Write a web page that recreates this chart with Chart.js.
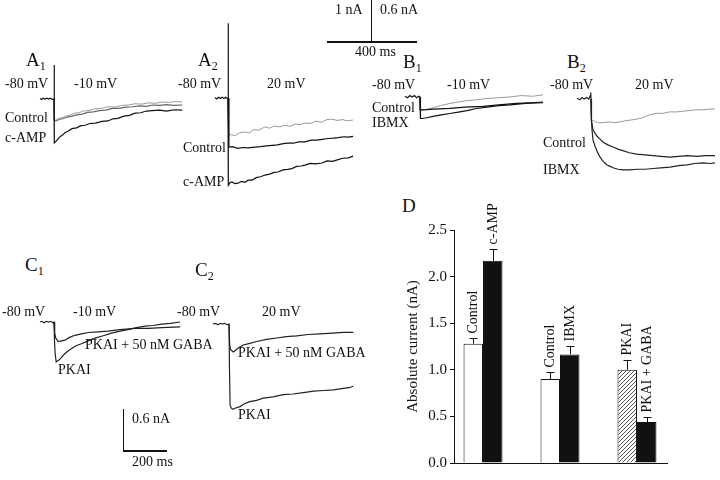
<!DOCTYPE html>
<html>
<head>
<meta charset="utf-8">
<script src="https://cdn.jsdelivr.net/npm/chart.js@4.4.0/dist/chart.umd.min.js"></script>
<style>
  body { margin: 0; background: #fff; }
  #fig { position: relative; width: 720px; height: 480px; overflow: hidden; font-family: 'Liberation Serif', 'Times New Roman', serif; color: #111; }
  #fig canvas { position: absolute; }
  .lbl { position: absolute; font-size: 14px; line-height: 1; white-space: nowrap; transform: translateY(-50%); }
  .panel { font-size: 19px; }
  .panel sub { font-size: 12px; vertical-align: -4px; }
  .sbar { position: absolute; background: #111; }
</style>
</head>
<body>
<div id="fig"></div>
<script>
'use strict';
// ---------------------- Trace data (time in ms, current in nA) -----------------
const a1Control = [[0, 0], [1, -0.48], [8, -0.49], [20, -0.45], [35, -0.44], [50, -0.40], [70, -0.38], [90, -0.33], [110, -0.32], [130, -0.28], [155, -0.27], [180, -0.23], [210, -0.22], [240, -0.18], [270, -0.19], [300, -0.15], [330, -0.14], [360, -0.11], [390, -0.12], [420, -0.09], [450, -0.10], [480, -0.07], [510, -0.08], [540, -0.06], [570, -0.07]];
const a1Control2 = [[0, 0], [1, -0.50], [10, -0.51], [25, -0.47], [40, -0.46], [60, -0.42], [80, -0.40], [100, -0.37], [125, -0.35], [150, -0.31], [175, -0.30], [200, -0.27], [230, -0.26], [260, -0.22], [290, -0.22], [320, -0.19], [350, -0.18], [380, -0.16], [410, -0.17], [440, -0.14], [470, -0.15], [500, -0.13], [530, -0.15], [570, -0.14]];
const a1Camp = [[-62, 0.01], [-55, -0.01], [-48, 0.02], [-40, 0], [-32, 0.02], [-24, 0], [-16, 0.02], [-8, -0.01], [0, 0], [0.5, 0.79], [2, -1.02], [10, -0.98], [20, -0.91], [28, -0.87], [38, -0.84], [50, -0.78], [62, -0.75], [80, -0.69], [100, -0.67], [120, -0.62], [138, -0.61], [160, -0.57], [185, -0.56], [213, -0.52], [240, -0.51], [262, -0.46], [284, -0.45], [310, -0.40], [335, -0.38], [360, -0.33], [385, -0.32], [410, -0.28], [436, -0.27], [470, -0.26], [500, -0.28], [535, -0.25], [570, -0.26]];

const a2Gray = [[0, 0], [3, -0.86], [15, -0.84], [30, -0.87], [50, -0.80], [76, -0.78], [95, -0.80], [115, -0.72], [135, -0.74], [164, -0.66], [185, -0.69], [205, -0.64], [230, -0.66], [253, -0.62], [275, -0.65], [300, -0.59], [320, -0.61], [342, -0.57], [365, -0.58], [390, -0.53], [415, -0.55], [440, -0.49], [462, -0.48], [485, -0.51], [510, -0.49], [530, -0.52], [556, -0.50]];
const a2Control = [[0, 0], [4, -1.13], [20, -1.12], [44, -1.16], [65, -1.14], [90, -1.15], [120, -1.13], [145, -1.12], [170, -1.10], [196, -1.09], [220, -1.08], [245, -1.05], [267, -1.04], [290, -1.04], [315, -1.01], [342, -1.01], [370, -0.97], [395, -0.97], [418, -0.95], [445, -0.93], [470, -0.92], [489, -0.91], [515, -0.89], [535, -0.90], [556, -0.88]];
const a2Camp = [[-58, 0.02], [-50, -0.01], [-42, 0.03], [-34, 0], [-26, 0.03], [-18, 0], [-10, 0.03], [-3, 0], [0, 0], [0.5, 1.75], [2, -2.02], [10, -1.95], [18, -1.94], [30, -1.98], [44, -1.97], [60, -1.93], [75, -1.95], [90, -1.90], [107, -1.90], [125, -1.84], [145, -1.82], [164, -1.78], [185, -1.76], [205, -1.72], [222, -1.71], [245, -1.66], [265, -1.65], [284, -1.63], [305, -1.58], [325, -1.57], [342, -1.55], [365, -1.51], [390, -1.52], [418, -1.50], [440, -1.45], [465, -1.46], [489, -1.42], [510, -1.39], [535, -1.38], [556, -1.34]];

const b1Gray = [[0, 0], [1, -0.18], [13, -0.18], [35, -0.17], [58, -0.15], [90, -0.12], [133, -0.09], [170, -0.07], [209, -0.05], [250, -0.04], [298, -0.02], [350, -0.01], [400, 0.0], [450, 0.02], [500, 0.01], [547, 0.03]];
const b1Control = [[-67, 0.01], [-55, -0.01], [-45, 0.02], [-35, 0], [-25, 0.02], [-15, -0.01], [-5, 0.01], [0, 0], [1, -0.18], [13, -0.18], [60, -0.17], [133, -0.16], [200, -0.14], [280, -0.13], [350, -0.11], [431, -0.09], [490, -0.08], [547, -0.07]];
const b1Ibmx = [[0, 0], [2, -0.30], [9, -0.30], [30, -0.29], [58, -0.27], [95, -0.25], [133, -0.23], [170, -0.21], [209, -0.19], [250, -0.16], [298, -0.14], [350, -0.12], [400, -0.11], [470, -0.09], [547, -0.08]];

const b2Gray = [[0, 0], [2, -0.29], [15, -0.31], [30, -0.33], [53, -0.33], [80, -0.32], [105, -0.33], [129, -0.32], [160, -0.30], [185, -0.29], [204, -0.28], [230, -0.26], [260, -0.22], [293, -0.20], [320, -0.20], [350, -0.18], [382, -0.18], [410, -0.17], [440, -0.16], [471, -0.15], [500, -0.15], [530, -0.14], [551, -0.14]];
const b2Control = [[-62, 0.01], [-50, -0.01], [-40, 0.02], [-30, 0], [-20, 0.02], [-10, 0], [-3, 0.05], [-1, 0.09], [0, 0], [2, -0.30], [9, -0.43], [18, -0.48], [27, -0.52], [40, -0.56], [53, -0.60], [75, -0.64], [98, -0.67], [120, -0.70], [142, -0.72], [170, -0.75], [204, -0.77], [240, -0.78], [276, -0.79], [310, -0.80], [351, -0.81], [390, -0.80], [427, -0.79], [470, -0.80], [510, -0.79], [551, -0.79]];
const b2Ibmx = [[0, 0], [2, -0.30], [5, -0.45], [9, -0.57], [18, -0.66], [27, -0.73], [38, -0.80], [49, -0.85], [60, -0.89], [71, -0.92], [85, -0.94], [98, -0.96], [120, -0.98], [142, -0.99], [170, -0.99], [204, -0.98], [240, -0.98], [276, -0.97], [310, -0.96], [351, -0.95], [390, -0.93], [427, -0.92], [460, -0.90], [498, -0.89], [530, -0.90], [551, -0.89]];

const c1Gaba = [[0, 0], [3, -0.15], [8, -0.23], [19, -0.28], [35, -0.27], [50, -0.26], [70, -0.22], [95, -0.19], [125, -0.17], [155, -0.15], [200, -0.14], [245, -0.13], [300, -0.11], [368, -0.09], [430, -0.09], [491, -0.08], [573, -0.07]];
const c1Pkai = [[-64, 0], [-55, 0.01], [-45, -0.01], [-35, 0.01], [-25, 0], [-15, 0.01], [-5, -0.01], [0, 0], [2, -0.25], [5, -0.45], [10, -0.57], [14, -0.56], [20, -0.55], [27, -0.53], [38, -0.49], [50, -0.45], [65, -0.41], [80, -0.38], [100, -0.34], [125, -0.31], [155, -0.27], [186, -0.23], [220, -0.20], [262, -0.16], [300, -0.13], [336, -0.11], [375, -0.08], [414, -0.06], [450, -0.05], [491, -0.03], [530, -0.02], [573, 0.00]];

const c2Gaba = [[0, 0], [3, -0.30], [8, -0.37], [20, -0.40], [35, -0.36], [50, -0.33], [65, -0.30], [90, -0.28], [126, -0.25], [170, -0.22], [217, -0.20], [260, -0.18], [308, -0.17], [360, -0.15], [414, -0.14], [470, -0.13], [520, -0.12], [565, -0.12]];
const c2Pkai = [[-73, 0], [-62, 0.01], [-50, -0.01], [-40, 0.01], [-30, 0], [-20, 0.01], [-10, -0.01], [0, 0], [2, -0.6], [5, -1.16], [10, -1.20], [17, -1.22], [30, -1.20], [50, -1.18], [70, -1.14], [95, -1.11], [125, -1.09], [156, -1.06], [200, -1.04], [247, -1.01], [290, -1.00], [338, -0.98], [385, -0.96], [429, -0.95], [475, -0.94], [520, -0.92], [545, -0.91], [565, -0.89]];

// ---------------------- Bar data (panel D) -----------------
const groups = ['c-AMP', 'IBMX', 'PKAI'];
const groupX = [0, 1, 2];
const firstBars = [1.28, 0.90, 1.00];
const firstErr = [0.06, 0.08, 0.10];
const firstLabels = ['Control', 'Control', 'PKAI'];
const secondBars = [2.17, 1.165, 0.44];
const secondErr = [0.13, 0.095, 0.05];
const secondLabels = ['c-AMP', 'IBMX', 'PKAI + GABA'];
const yTickStep = 0.5;
const yMaxValue = 2.5;

// ---------------------- Scales (px per unit, from the scale bars) -----------------
const scaleA = { pxPerMs: 0.225, pxPerNa: 43 };
const scaleB = { pxPerMs: 0.225, pxPerNa: 43 / 0.6 };
const scaleC = { pxPerMs: 0.22, pxPerNa: 70 };

const GRAY = '#9a9a9a';
const DARK = '#222';
const BLACK = '#111';

const fig = document.getElementById('fig');
Chart.defaults.font.family = "'Liberation Serif', 'Times New Roman', serif";
Chart.defaults.color = BLACK;

function makeCanvas(box) {
  const canvas = document.createElement('canvas');
  canvas.width = box.width;
  canvas.height = box.height;
  canvas.style.left = box.left + 'px';
  canvas.style.top = box.top + 'px';
  canvas.style.width = box.width + 'px';
  canvas.style.height = box.height + 'px';
  fig.appendChild(canvas);
  return canvas;
}

function makeTracePanel(box, t0x, base0y, scale, traces) {
  const canvas = makeCanvas(box);
  const xMin = -(t0x - box.left) / scale.pxPerMs;
  const yMax = (base0y - box.top) / scale.pxPerNa;
  new Chart(canvas, {
    type: 'line',
    data: {
      datasets: traces.map((tr, i) => ({
        data: tr.points.map(p => ({ x: p[0], y: p[1] })),
        borderColor: tr.color,
        borderWidth: tr.color === GRAY ? 1 : 1.2,
        pointRadius: 0,
        tension: 0,
        fill: false,
        order: traces.length - i
      }))
    },
    options: {
      responsive: false,
      animation: false,
      events: [],
      layout: { padding: 0 },
      plugins: { legend: { display: false }, tooltip: { enabled: false } },
      scales: {
        x: { type: 'linear', display: false, min: xMin, max: xMin + box.width / scale.pxPerMs },
        y: { type: 'linear', display: false, min: yMax - box.height / scale.pxPerNa, max: yMax }
      }
    }
  });
}

function label(html, x, y, cls) {
  const el = document.createElement('div');
  el.className = 'lbl' + (cls ? ' ' + cls : '');
  el.innerHTML = html;
  el.style.left = x + 'px';
  el.style.top = y + 'px';
  fig.appendChild(el);
}

function scaleBar(x, y, w, h) {
  const el = document.createElement('div');
  el.className = 'sbar';
  el.style.left = x + 'px';
  el.style.top = y + 'px';
  el.style.width = w + 'px';
  el.style.height = h + 'px';
  fig.appendChild(el);
}

function makeHatch() {
  const c = document.createElement('canvas');
  c.width = 4;
  c.height = 4;
  const g = c.getContext('2d');
  g.fillStyle = '#fff';
  g.fillRect(0, 0, 4, 4);
  g.strokeStyle = '#555';
  g.lineWidth = 1;
  g.beginPath();
  g.moveTo(0, 4); g.lineTo(4, 0);
  g.moveTo(-1, 1); g.lineTo(1, -1);
  g.moveTo(3, 5); g.lineTo(5, 3);
  g.stroke();
  return g.createPattern(c, 'repeat');
}

// -------------------- Trace panels -----------------
makeTracePanel({ left: 38, top: 55, width: 150, height: 95 }, 54, 99, scaleA, [
  { points: a1Control, color: GRAY },
  { points: a1Control2, color: '#666' },
  { points: a1Camp, color: BLACK }
]);
makeTracePanel({ left: 210, top: 18, width: 150, height: 172 }, 228, 98.5, scaleA, [
  { points: a2Gray, color: GRAY },
  { points: a2Control, color: BLACK },
  { points: a2Camp, color: BLACK }
]);
makeTracePanel({ left: 400, top: 85, width: 148, height: 40 }, 420, 97, scaleB, [
  { points: b1Gray, color: GRAY },
  { points: b1Control, color: BLACK },
  { points: b1Ibmx, color: BLACK }
]);
makeTracePanel({ left: 572, top: 85, width: 148, height: 90 }, 591, 99, scaleB, [
  { points: b2Gray, color: GRAY },
  { points: b2Control, color: DARK },
  { points: b2Ibmx, color: DARK }
]);
makeTracePanel({ left: 36, top: 310, width: 150, height: 60 }, 54, 322, scaleC, [
  { points: c1Gaba, color: DARK },
  { points: c1Pkai, color: DARK }
]);
makeTracePanel({ left: 210, top: 310, width: 150, height: 105 }, 229, 324, scaleC, [
  { points: c2Gaba, color: DARK },
  { points: c2Pkai, color: DARK }
]);

// -------------------- Scale bars -----------------
scaleBar(370.5, 0, 1.5, 1 * scaleA.pxPerNa);
scaleBar(327, 41, 400 * scaleA.pxPerMs, 2);
scaleBar(122.5, 451 - 0.6 * scaleC.pxPerNa, 1.5, 0.6 * scaleC.pxPerNa);
scaleBar(122.5, 450, 200 * scaleC.pxPerMs, 1.5);

// -------------------- Text -----------------
const texts = [
  ['A<sub>1</sub>', 26, 61, 'panel'], ['-80 mV', 5, 84], ['-10 mV', 74, 84], ['Control', 5, 118], ['c-AMP', 5, 138],
  ['A<sub>2</sub>', 198, 61, 'panel'], ['-80 mV', 178, 84], ['20 mV', 267, 84], ['Control', 183, 148], ['c-AMP', 183, 182],
  ['1 nA', 335, 10], ['0.6 nA', 380, 10], ['400 ms', 355, 52],
  ['B<sub>1</sub>', 403, 63, 'panel'], ['-80 mV', 372, 85], ['-10 mV', 447, 85], ['Control', 372, 108], ['IBMX', 372, 123],
  ['B<sub>2</sub>', 567, 63, 'panel'], ['-80 mV', 550, 85], ['20 mV', 635, 85], ['Control', 543, 143], ['IBMX', 543, 170],
  ['C<sub>1</sub>', 25, 266, 'panel'], ['-80 mV', 2, 312], ['-10 mV', 73, 312], ['PKAI + 50 nM GABA', 85, 345], ['PKAI', 58, 370],
  ['C<sub>2</sub>', 195, 271, 'panel'], ['-80 mV', 177, 312], ['20 mV', 262, 312], ['PKAI + 50 nM GABA', 238, 353], ['PKAI', 238, 415],
  ['0.6 nA', 132, 419], ['200 ms', 132, 462],
  ['D', 402, 205, 'panel']
];
for (const t of texts) {
  label(t[0], t[1], t[2], t[3]);
}

// -------------------- Panel D bar chart -----------------
const errorBarPlugin = {
  id: 'errorBars',
  afterDatasetsDraw(chart) {
    const ctx = chart.ctx;
    const yScale = chart.scales.y;
    chart.data.datasets.forEach((ds, di) => {
      const meta = chart.getDatasetMeta(di);
      meta.data.forEach((bar, i) => {
        const x = Math.round(bar.x) + 0.5;
        const top = Math.round(yScale.getPixelForValue(ds.data[i].y + ds.errors[i])) + 0.5;
        ctx.save();
        ctx.strokeStyle = BLACK;
        ctx.lineWidth = 1;
        ctx.beginPath();
        ctx.moveTo(x, bar.y);
        ctx.lineTo(x, top);
        ctx.moveTo(x - 4, top);
        ctx.lineTo(x + 4, top);
        ctx.stroke();
        ctx.translate(x, top - 5);
        ctx.rotate(-Math.PI / 2);
        ctx.font = "14px 'Liberation Serif'";
        ctx.fillStyle = BLACK;
        ctx.textAlign = 'left';
        ctx.textBaseline = 'middle';
        ctx.fillText(ds.barLabels[i], 0, 0);
        ctx.restore();
      });
    });
  }
};

const hatch = makeHatch();
new Chart(makeCanvas({ left: 400, top: 185, width: 300, height: 290 }), {
  type: 'bar',
  data: {
    datasets: [
      {
        label: 'before',
        data: groupX.map((x, i) => ({ x: x, y: firstBars[i] })),
        backgroundColor: ['#fff', '#fff', hatch],
        borderColor: BLACK,
        borderWidth: 1,
        errors: firstErr,
        barLabels: firstLabels,
        categoryPercentage: 0.506,
        barPercentage: 1
      },
      {
        label: 'after',
        data: groupX.map((x, i) => ({ x: x, y: secondBars[i] })),
        backgroundColor: BLACK,
        borderColor: BLACK,
        borderWidth: 1,
        errors: secondErr,
        barLabels: secondLabels,
        categoryPercentage: 0.506,
        barPercentage: 1
      }
    ]
  },
  options: {
    responsive: false,
    animation: false,
    events: [],
    layout: { padding: { top: 45, bottom: 3, right: 33, left: 0 } },
    plugins: { legend: { display: false }, tooltip: { enabled: false } },
    scales: {
      x: {
        type: 'linear',
        min: -0.377,
        max: 2.39,
        offset: false,
        ticks: { display: false },
        grid: { drawOnChartArea: false, drawTicks: false },
        border: { display: true, color: BLACK, width: 1 },
        afterFit(scale) { scale.height = 0; }
      },
      y: {
        min: 0,
        max: yMaxValue,
        ticks: { stepSize: yTickStep, callback: v => v.toFixed(1), color: BLACK, font: { size: 15 }, padding: 3 },
        grid: { drawOnChartArea: false, drawTicks: true, tickLength: 4, color: BLACK },
        border: { display: true, color: BLACK, width: 1 },
        title: { display: true, text: 'Absolute current (nA)', color: BLACK, font: { size: 15 }, padding: { top: 4, bottom: 0 } },
        afterFit(scale) { scale.width = 54; }
      }
    }
  },
  plugins: [errorBarPlugin]
});
</script>
</body>
</html>
